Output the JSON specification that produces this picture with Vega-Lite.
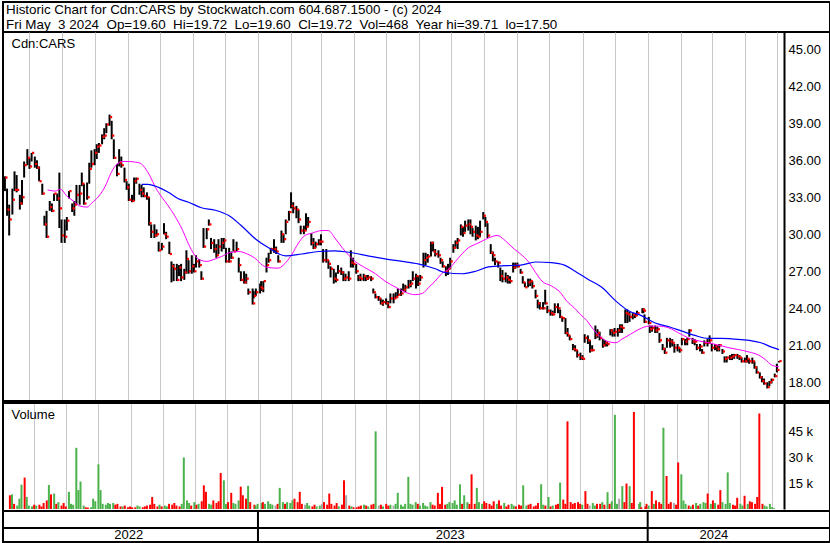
{
"$schema":"https://vega.github.io/schema/vega-lite/v6.json",
"background":"white",
"padding":{"left":1,"top":1,"right":0,"bottom":0},
"spacing":0,
"bounds":"flush",
"resolve":{"scale":{"x":"independent","y":"independent"}},
"datasets":{
"hdr":[{"line":"1","t":"Historic Chart for Cdn:CARS by Stockwatch.com 604.687.1500 - (c) 2024"},{"line":"2","t":"Fri May\u00a0 3 2024\u00a0 Op=19.60\u00a0 Hi=19.72\u00a0 Lo=19.60\u00a0 Cl=19.72\u00a0 Vol=468\u00a0 Year hi=39.71\u00a0 lo=17.50"}],
"bars":[
{"d":"2022-05-09","h":34.7,"l":33.5,"c":34.6,"v":8000,"dir":"d"},
{"d":"2022-05-11","h":33.7,"l":31.5,"c":32.0,"v":8500,"dir":"u"},
{"d":"2022-05-13","h":32.4,"l":29.9,"c":31.2,"v":3000,"dir":"d"},
{"d":"2022-05-16","h":33.7,"l":31.6,"c":32.8,"v":2000,"dir":"u"},
{"d":"2022-05-18","h":35.1,"l":33.5,"c":33.6,"v":6000,"dir":"u"},
{"d":"2022-05-20","h":34.8,"l":33.4,"c":33.6,"v":14200,"dir":"u"},
{"d":"2022-05-23","h":33.2,"l":32.0,"c":32.5,"v":18300,"dir":"d"},
{"d":"2022-05-25","h":34.4,"l":32.4,"c":33.0,"v":7000,"dir":"u"},
{"d":"2022-05-27","h":35.9,"l":34.6,"c":35.6,"v":2000,"dir":"u"},
{"d":"2022-05-30","h":36.9,"l":35.6,"c":36.2,"v":1500,"dir":"u"},
{"d":"2022-06-01","h":36.2,"l":35.3,"c":35.5,"v":2500,"dir":"d"},
{"d":"2022-06-03","h":36.6,"l":35.9,"c":36.6,"v":2000,"dir":"u"},
{"d":"2022-06-06","h":36.3,"l":35.4,"c":35.7,"v":2500,"dir":"d"},
{"d":"2022-06-08","h":36.0,"l":35.3,"c":35.4,"v":1500,"dir":"d"},
{"d":"2022-06-10","h":35.5,"l":34.3,"c":34.3,"v":3500,"dir":"d"},
{"d":"2022-06-13","h":34.1,"l":33.2,"c":33.3,"v":5000,"dir":"d"},
{"d":"2022-06-15","h":31.5,"l":30.7,"c":30.8,"v":14000,"dir":"u"},
{"d":"2022-06-17","h":31.9,"l":29.7,"c":29.8,"v":8500,"dir":"d"},
{"d":"2022-06-20","h":32.7,"l":31.9,"c":32.2,"v":9000,"dir":"u"},
{"d":"2022-06-22","h":32.5,"l":31.8,"c":31.9,"v":3000,"dir":"d"},
{"d":"2022-06-24","h":33.3,"l":32.7,"c":33.3,"v":4000,"dir":"u"},
{"d":"2022-06-27","h":33.3,"l":32.7,"c":32.9,"v":2000,"dir":"d"},
{"d":"2022-06-29","h":35.0,"l":30.5,"c":32.1,"v":3500,"dir":"d"},
{"d":"2022-07-01","h":31.2,"l":29.3,"c":29.9,"v":1500,"dir":"d"},
{"d":"2022-07-04","h":31.2,"l":29.3,"c":29.8,"v":10000,"dir":"u"},
{"d":"2022-07-06","h":31.4,"l":30.3,"c":31.1,"v":3000,"dir":"u"},
{"d":"2022-07-08","h":33.5,"l":32.9,"c":33.5,"v":2500,"dir":"u"},
{"d":"2022-07-11","h":32.5,"l":31.8,"c":32.1,"v":35600,"dir":"u"},
{"d":"2022-07-13","h":32.7,"l":31.5,"c":32.4,"v":11000,"dir":"u"},
{"d":"2022-07-15","h":34.0,"l":32.4,"c":33.2,"v":16000,"dir":"u"},
{"d":"2022-07-18","h":34.0,"l":32.4,"c":33.3,"v":2000,"dir":"u"},
{"d":"2022-07-20","h":35.0,"l":33.9,"c":34.1,"v":1000,"dir":"d"},
{"d":"2022-07-22","h":34.1,"l":32.4,"c":32.5,"v":800,"dir":"d"},
{"d":"2022-07-25","h":34.2,"l":32.8,"c":33.0,"v":1000,"dir":"u"},
{"d":"2022-07-27","h":35.8,"l":34.1,"c":35.3,"v":6000,"dir":"u"},
{"d":"2022-07-29","h":36.8,"l":35.4,"c":35.7,"v":4500,"dir":"u"},
{"d":"2022-08-01","h":36.9,"l":35.6,"c":36.6,"v":26000,"dir":"u"},
{"d":"2022-08-03","h":37.3,"l":36.1,"c":37.1,"v":11000,"dir":"u"},
{"d":"2022-08-05","h":37.4,"l":36.6,"c":37.2,"v":3000,"dir":"u"},
{"d":"2022-08-08","h":38.1,"l":37.3,"c":37.9,"v":2500,"dir":"u"},
{"d":"2022-08-10","h":38.6,"l":37.7,"c":38.0,"v":3500,"dir":"u"},
{"d":"2022-08-12","h":39.0,"l":38.2,"c":38.9,"v":3000,"dir":"u"},
{"d":"2022-08-15","h":39.7,"l":38.8,"c":39.5,"v":3500,"dir":"u"},
{"d":"2022-08-17","h":39.2,"l":37.7,"c":38.0,"v":2500,"dir":"d"},
{"d":"2022-08-19","h":37.7,"l":36.1,"c":36.2,"v":3000,"dir":"d"},
{"d":"2022-08-22","h":35.7,"l":34.7,"c":34.9,"v":1500,"dir":"d"},
{"d":"2022-08-24","h":36.9,"l":35.5,"c":35.8,"v":1500,"dir":"u"},
{"d":"2022-08-26","h":36.3,"l":35.4,"c":35.6,"v":2000,"dir":"d"},
{"d":"2022-08-29","h":35.4,"l":34.2,"c":34.4,"v":1000,"dir":"d"},
{"d":"2022-08-31","h":34.3,"l":33.6,"c":33.8,"v":1500,"dir":"d"},
{"d":"2022-09-02","h":34.1,"l":32.7,"c":32.8,"v":1000,"dir":"d"},
{"d":"2022-09-05","h":33.2,"l":32.6,"c":32.7,"v":1000,"dir":"d"},
{"d":"2022-09-07","h":34.6,"l":32.7,"c":34.3,"v":2000,"dir":"u"},
{"d":"2022-09-09","h":34.6,"l":34.1,"c":34.5,"v":1500,"dir":"u"},
{"d":"2022-09-12","h":34.1,"l":33.2,"c":33.6,"v":1000,"dir":"d"},
{"d":"2022-09-14","h":34.0,"l":33.0,"c":33.3,"v":1500,"dir":"d"},
{"d":"2022-09-16","h":33.8,"l":33.0,"c":33.1,"v":2000,"dir":"d"},
{"d":"2022-09-19","h":33.4,"l":32.8,"c":33.0,"v":2500,"dir":"d"},
{"d":"2022-09-21","h":33.0,"l":30.7,"c":30.9,"v":7000,"dir":"d"},
{"d":"2022-09-23","h":30.8,"l":29.7,"c":30.2,"v":3000,"dir":"d"},
{"d":"2022-09-26","h":30.8,"l":29.7,"c":29.9,"v":1500,"dir":"d"},
{"d":"2022-09-28","h":30.4,"l":29.8,"c":30.0,"v":2500,"dir":"u"},
{"d":"2022-09-30","h":29.4,"l":28.6,"c":28.7,"v":1500,"dir":"d"},
{"d":"2022-10-03","h":29.3,"l":28.7,"c":29.0,"v":2000,"dir":"u"},
{"d":"2022-10-05","h":30.9,"l":30.0,"c":30.0,"v":1500,"dir":"u"},
{"d":"2022-10-07","h":30.2,"l":29.6,"c":29.8,"v":3000,"dir":"d"},
{"d":"2022-10-10","h":29.4,"l":28.4,"c":28.4,"v":2500,"dir":"d"},
{"d":"2022-10-12","h":27.8,"l":26.1,"c":27.4,"v":3500,"dir":"d"},
{"d":"2022-10-14","h":27.6,"l":26.2,"c":27.2,"v":2000,"dir":"d"},
{"d":"2022-10-17","h":27.6,"l":26.2,"c":26.3,"v":1500,"dir":"d"},
{"d":"2022-10-19","h":27.5,"l":26.6,"c":27.3,"v":3000,"dir":"u"},
{"d":"2022-10-21","h":27.6,"l":26.2,"c":26.5,"v":30000,"dir":"u"},
{"d":"2022-10-24","h":27.2,"l":26.3,"c":26.9,"v":5000,"dir":"u"},
{"d":"2022-10-26","h":28.7,"l":26.8,"c":28.0,"v":3500,"dir":"u"},
{"d":"2022-10-28","h":27.9,"l":26.8,"c":27.0,"v":2000,"dir":"d"},
{"d":"2022-10-31","h":28.3,"l":26.8,"c":27.4,"v":4000,"dir":"u"},
{"d":"2022-11-02","h":27.6,"l":26.9,"c":27.0,"v":2500,"dir":"d"},
{"d":"2022-11-04","h":28.3,"l":27.3,"c":27.8,"v":3000,"dir":"u"},
{"d":"2022-11-07","h":28.0,"l":27.3,"c":27.5,"v":4500,"dir":"d"},
{"d":"2022-11-09","h":27.0,"l":26.3,"c":26.4,"v":13800,"dir":"d"},
{"d":"2022-11-11","h":30.5,"l":28.9,"c":29.0,"v":10000,"dir":"d"},
{"d":"2022-11-14","h":30.5,"l":29.6,"c":30.4,"v":3000,"dir":"u"},
{"d":"2022-11-16","h":31.2,"l":30.7,"c":30.8,"v":2500,"dir":"u"},
{"d":"2022-11-18","h":29.7,"l":28.8,"c":29.3,"v":5000,"dir":"d"},
{"d":"2022-11-21","h":29.6,"l":28.5,"c":28.8,"v":3500,"dir":"d"},
{"d":"2022-11-23","h":29.2,"l":28.1,"c":28.3,"v":4500,"dir":"d"},
{"d":"2022-11-25","h":29.6,"l":28.4,"c":29.0,"v":21000,"dir":"d"},
{"d":"2022-11-28","h":29.7,"l":28.6,"c":29.3,"v":16700,"dir":"u"},
{"d":"2022-11-30","h":29.7,"l":28.8,"c":29.5,"v":3000,"dir":"u"},
{"d":"2022-12-02","h":28.9,"l":27.7,"c":27.8,"v":4000,"dir":"d"},
{"d":"2022-12-05","h":28.9,"l":27.7,"c":27.8,"v":9400,"dir":"d"},
{"d":"2022-12-07","h":28.6,"l":28.0,"c":28.1,"v":3500,"dir":"u"},
{"d":"2022-12-09","h":29.6,"l":28.6,"c":28.6,"v":3000,"dir":"u"},
{"d":"2022-12-12","h":29.4,"l":28.6,"c":28.8,"v":5000,"dir":"u"},
{"d":"2022-12-14","h":28.1,"l":26.9,"c":27.5,"v":13000,"dir":"d"},
{"d":"2022-12-16","h":27.0,"l":26.2,"c":26.3,"v":8000,"dir":"d"},
{"d":"2022-12-19","h":27.0,"l":26.0,"c":26.1,"v":6000,"dir":"d"},
{"d":"2022-12-21","h":26.8,"l":26.0,"c":26.4,"v":13500,"dir":"u"},
{"d":"2022-12-23","h":25.6,"l":25.1,"c":25.3,"v":4000,"dir":"d"},
{"d":"2022-12-27","h":25.6,"l":24.3,"c":24.4,"v":2500,"dir":"d"},
{"d":"2022-12-28","h":25.4,"l":24.8,"c":25.0,"v":2000,"dir":"u"},
{"d":"2022-12-30","h":25.6,"l":25.0,"c":25.3,"v":3000,"dir":"u"},
{"d":"2023-01-03","h":26.0,"l":25.2,"c":25.7,"v":3500,"dir":"u"},
{"d":"2023-01-04","h":26.2,"l":25.4,"c":25.6,"v":4000,"dir":"d"},
{"d":"2023-01-06","h":26.2,"l":25.3,"c":26.2,"v":3000,"dir":"u"},
{"d":"2023-01-09","h":28.1,"l":26.9,"c":27.5,"v":4500,"dir":"u"},
{"d":"2023-01-11","h":28.5,"l":27.7,"c":27.9,"v":3000,"dir":"u"},
{"d":"2023-01-13","h":28.9,"l":28.4,"c":28.8,"v":2500,"dir":"u"},
{"d":"2023-01-16","h":29.6,"l":28.5,"c":28.8,"v":2000,"dir":"n"},
{"d":"2023-01-18","h":29.0,"l":28.4,"c":28.6,"v":3000,"dir":"d"},
{"d":"2023-01-20","h":28.3,"l":27.7,"c":27.8,"v":12300,"dir":"u"},
{"d":"2023-01-23","h":30.3,"l":29.3,"c":30.0,"v":4000,"dir":"u"},
{"d":"2023-01-25","h":30.0,"l":29.3,"c":29.6,"v":3000,"dir":"d"},
{"d":"2023-01-27","h":31.2,"l":30.0,"c":31.0,"v":4000,"dir":"u"},
{"d":"2023-01-30","h":31.9,"l":31.1,"c":31.8,"v":3500,"dir":"u"},
{"d":"2023-02-01","h":33.4,"l":32.1,"c":32.3,"v":5000,"dir":"u"},
{"d":"2023-02-03","h":32.6,"l":31.7,"c":32.1,"v":6000,"dir":"d"},
{"d":"2023-02-06","h":32.3,"l":31.3,"c":32.0,"v":4000,"dir":"d"},
{"d":"2023-02-08","h":32.0,"l":30.9,"c":31.2,"v":10000,"dir":"d"},
{"d":"2023-02-10","h":30.7,"l":30.0,"c":30.3,"v":3000,"dir":"d"},
{"d":"2023-02-13","h":30.7,"l":30.0,"c":30.3,"v":2500,"dir":"n"},
{"d":"2023-02-15","h":31.7,"l":30.3,"c":30.6,"v":3500,"dir":"u"},
{"d":"2023-02-17","h":31.4,"l":30.6,"c":31.0,"v":2000,"dir":"u"},
{"d":"2023-02-20","h":30.1,"l":29.1,"c":29.3,"v":1500,"dir":"d"},
{"d":"2023-02-22","h":29.7,"l":28.8,"c":28.9,"v":2500,"dir":"d"},
{"d":"2023-02-24","h":29.4,"l":28.9,"c":29.2,"v":1500,"dir":"u"},
{"d":"2023-02-27","h":29.6,"l":29.1,"c":29.4,"v":2000,"dir":"u"},
{"d":"2023-03-01","h":30.0,"l":29.1,"c":29.4,"v":3000,"dir":"n"},
{"d":"2023-03-03","h":28.8,"l":27.7,"c":27.9,"v":4000,"dir":"d"},
{"d":"2023-03-06","h":28.8,"l":27.7,"c":27.9,"v":2500,"dir":"d"},
{"d":"2023-03-08","h":27.9,"l":27.2,"c":27.6,"v":9000,"dir":"d"},
{"d":"2023-03-10","h":27.4,"l":26.5,"c":27.2,"v":3000,"dir":"d"},
{"d":"2023-03-13","h":27.2,"l":26.0,"c":26.4,"v":2000,"dir":"d"},
{"d":"2023-03-15","h":26.9,"l":26.1,"c":26.3,"v":3500,"dir":"d"},
{"d":"2023-03-17","h":27.5,"l":26.8,"c":27.0,"v":1500,"dir":"u"},
{"d":"2023-03-20","h":27.3,"l":26.7,"c":26.9,"v":2500,"dir":"d"},
{"d":"2023-03-22","h":27.0,"l":26.2,"c":26.4,"v":16700,"dir":"d"},
{"d":"2023-03-24","h":26.8,"l":26.2,"c":26.5,"v":8000,"dir":"n"},
{"d":"2023-03-27","h":27.0,"l":26.2,"c":26.4,"v":2000,"dir":"d"},
{"d":"2023-03-29","h":28.7,"l":27.3,"c":27.7,"v":1500,"dir":"u"},
{"d":"2023-03-31","h":28.1,"l":27.3,"c":27.6,"v":1000,"dir":"d"},
{"d":"2023-04-03","h":27.6,"l":26.8,"c":27.0,"v":1000,"dir":"d"},
{"d":"2023-04-05","h":26.7,"l":26.2,"c":26.5,"v":1500,"dir":"d"},
{"d":"2023-04-07","h":26.8,"l":26.2,"c":26.4,"v":2000,"dir":"d"},
{"d":"2023-04-10","h":26.8,"l":26.2,"c":26.6,"v":2500,"dir":"u"},
{"d":"2023-04-12","h":26.7,"l":26.2,"c":26.4,"v":2000,"dir":"d"},
{"d":"2023-04-14","h":26.7,"l":26.3,"c":26.5,"v":1500,"dir":"u"},
{"d":"2023-04-17","h":26.6,"l":26.2,"c":26.4,"v":2500,"dir":"d"},
{"d":"2023-04-19","h":25.6,"l":25.2,"c":25.3,"v":3000,"dir":"d"},
{"d":"2023-04-21","h":25.2,"l":24.8,"c":24.9,"v":45200,"dir":"u"},
{"d":"2023-04-24","h":25.0,"l":24.6,"c":24.8,"v":2000,"dir":"n"},
{"d":"2023-04-26","h":24.8,"l":24.3,"c":24.4,"v":2500,"dir":"d"},
{"d":"2023-04-28","h":24.7,"l":24.2,"c":24.5,"v":1500,"dir":"u"},
{"d":"2023-05-01","h":24.8,"l":24.3,"c":24.4,"v":3000,"dir":"d"},
{"d":"2023-05-03","h":24.6,"l":24.0,"c":24.1,"v":2000,"dir":"d"},
{"d":"2023-05-05","h":25.2,"l":24.4,"c":24.8,"v":2500,"dir":"u"},
{"d":"2023-05-08","h":25.2,"l":24.4,"c":24.8,"v":2000,"dir":"n"},
{"d":"2023-05-10","h":25.3,"l":24.8,"c":24.9,"v":3000,"dir":"u"},
{"d":"2023-05-12","h":25.6,"l":25.0,"c":25.1,"v":9400,"dir":"u"},
{"d":"2023-05-15","h":25.6,"l":25.0,"c":25.2,"v":2500,"dir":"u"},
{"d":"2023-05-17","h":26.0,"l":25.4,"c":25.5,"v":1500,"dir":"u"},
{"d":"2023-05-19","h":25.9,"l":25.3,"c":25.7,"v":3000,"dir":"u"},
{"d":"2023-05-22","h":26.3,"l":25.6,"c":25.9,"v":18700,"dir":"u"},
{"d":"2023-05-24","h":26.3,"l":25.7,"c":26.0,"v":3000,"dir":"u"},
{"d":"2023-05-26","h":27.0,"l":26.2,"c":26.4,"v":2500,"dir":"u"},
{"d":"2023-05-29","h":26.8,"l":25.6,"c":26.6,"v":4000,"dir":"u"},
{"d":"2023-05-31","h":26.6,"l":25.8,"c":26.0,"v":3000,"dir":"d"},
{"d":"2023-06-02","h":26.7,"l":26.2,"c":26.5,"v":2000,"dir":"u"},
{"d":"2023-06-05","h":28.5,"l":27.3,"c":27.9,"v":3500,"dir":"u"},
{"d":"2023-06-07","h":28.5,"l":27.5,"c":28.1,"v":2000,"dir":"u"},
{"d":"2023-06-09","h":28.4,"l":27.7,"c":28.2,"v":1500,"dir":"u"},
{"d":"2023-06-12","h":29.4,"l":28.2,"c":29.3,"v":4000,"dir":"u"},
{"d":"2023-06-14","h":29.4,"l":28.6,"c":28.6,"v":2500,"dir":"d"},
{"d":"2023-06-16","h":28.8,"l":28.2,"c":28.4,"v":2000,"dir":"d"},
{"d":"2023-06-19","h":28.7,"l":28.1,"c":28.3,"v":9400,"dir":"d"},
{"d":"2023-06-21","h":28.1,"l":27.6,"c":27.9,"v":3000,"dir":"d"},
{"d":"2023-06-23","h":27.8,"l":27.3,"c":27.4,"v":12900,"dir":"d"},
{"d":"2023-06-26","h":27.4,"l":26.6,"c":27.0,"v":2500,"dir":"d"},
{"d":"2023-06-28","h":27.6,"l":26.7,"c":27.2,"v":3000,"dir":"u"},
{"d":"2023-06-30","h":28.1,"l":27.2,"c":27.8,"v":4000,"dir":"u"},
{"d":"2023-07-03","h":29.2,"l":28.5,"c":28.9,"v":3500,"dir":"u"},
{"d":"2023-07-05","h":29.5,"l":28.9,"c":29.3,"v":5000,"dir":"u"},
{"d":"2023-07-07","h":29.7,"l":28.8,"c":29.5,"v":2500,"dir":"u"},
{"d":"2023-07-10","h":30.8,"l":29.9,"c":30.6,"v":14400,"dir":"u"},
{"d":"2023-07-12","h":30.6,"l":29.8,"c":30.1,"v":3000,"dir":"d"},
{"d":"2023-07-14","h":31.1,"l":30.2,"c":30.7,"v":8000,"dir":"u"},
{"d":"2023-07-17","h":31.2,"l":30.3,"c":30.8,"v":4000,"dir":"u"},
{"d":"2023-07-19","h":31.2,"l":30.0,"c":30.6,"v":3000,"dir":"d"},
{"d":"2023-07-21","h":30.5,"l":29.8,"c":30.2,"v":20200,"dir":"d"},
{"d":"2023-07-24","h":30.7,"l":29.5,"c":29.9,"v":3000,"dir":"d"},
{"d":"2023-07-26","h":30.6,"l":29.6,"c":29.8,"v":12300,"dir":"u"},
{"d":"2023-07-28","h":31.1,"l":29.8,"c":30.2,"v":4000,"dir":"u"},
{"d":"2023-07-31","h":31.8,"l":31.2,"c":31.5,"v":3000,"dir":"u"},
{"d":"2023-08-02","h":31.4,"l":30.6,"c":31.0,"v":4500,"dir":"d"},
{"d":"2023-08-04","h":30.9,"l":29.7,"c":29.9,"v":3500,"dir":"d"},
{"d":"2023-08-07","h":29.2,"l":28.4,"c":28.5,"v":3000,"dir":"d"},
{"d":"2023-08-09","h":28.6,"l":27.8,"c":28.3,"v":2000,"dir":"d"},
{"d":"2023-08-11","h":28.1,"l":27.5,"c":27.8,"v":4500,"dir":"d"},
{"d":"2023-08-14","h":27.8,"l":27.3,"c":27.7,"v":3000,"dir":"u"},
{"d":"2023-08-16","h":27.3,"l":26.2,"c":26.6,"v":5000,"dir":"d"},
{"d":"2023-08-18","h":27.1,"l":26.1,"c":26.4,"v":2000,"dir":"d"},
{"d":"2023-08-21","h":26.9,"l":26.1,"c":26.5,"v":3500,"dir":"u"},
{"d":"2023-08-23","h":26.7,"l":26.0,"c":26.3,"v":1500,"dir":"d"},
{"d":"2023-08-25","h":26.6,"l":26.0,"c":26.2,"v":2500,"dir":"d"},
{"d":"2023-08-28","h":27.7,"l":26.9,"c":27.3,"v":3000,"dir":"u"},
{"d":"2023-08-30","h":27.7,"l":27.2,"c":27.5,"v":2000,"dir":"u"},
{"d":"2023-09-01","h":27.7,"l":27.3,"c":27.4,"v":1500,"dir":"d"},
{"d":"2023-09-04","h":27.2,"l":26.8,"c":26.9,"v":2500,"dir":"d"},
{"d":"2023-09-06","h":26.6,"l":26.0,"c":26.1,"v":2000,"dir":"d"},
{"d":"2023-09-08","h":26.1,"l":25.7,"c":25.7,"v":13800,"dir":"u"},
{"d":"2023-09-11","h":26.4,"l":25.7,"c":26.1,"v":2000,"dir":"u"},
{"d":"2023-09-13","h":26.4,"l":25.8,"c":26.2,"v":2500,"dir":"d"},
{"d":"2023-09-15","h":26.2,"l":25.6,"c":25.8,"v":3000,"dir":"d"},
{"d":"2023-09-18","h":25.5,"l":24.8,"c":25.0,"v":1500,"dir":"d"},
{"d":"2023-09-20","h":24.7,"l":24.0,"c":24.4,"v":2000,"dir":"d"},
{"d":"2023-09-22","h":24.5,"l":23.9,"c":24.0,"v":3500,"dir":"d"},
{"d":"2023-09-25","h":24.5,"l":23.9,"c":24.0,"v":14400,"dir":"u"},
{"d":"2023-09-27","h":25.5,"l":24.3,"c":24.4,"v":2500,"dir":"u"},
{"d":"2023-09-29","h":24.2,"l":23.6,"c":23.8,"v":2000,"dir":"d"},
{"d":"2023-10-02","h":23.9,"l":23.4,"c":23.6,"v":7000,"dir":"u"},
{"d":"2023-10-04","h":23.8,"l":23.4,"c":23.5,"v":1500,"dir":"d"},
{"d":"2023-10-06","h":24.4,"l":23.6,"c":24.1,"v":2000,"dir":"u"},
{"d":"2023-10-09","h":24.4,"l":23.6,"c":24.0,"v":2500,"dir":"d"},
{"d":"2023-10-11","h":23.9,"l":23.2,"c":23.3,"v":3000,"dir":"d"},
{"d":"2023-10-13","h":23.3,"l":22.9,"c":23.2,"v":15400,"dir":"u"},
{"d":"2023-10-16","h":23.2,"l":21.9,"c":22.0,"v":5500,"dir":"d"},
{"d":"2023-10-18","h":22.4,"l":21.7,"c":21.8,"v":3000,"dir":"d"},
{"d":"2023-10-20","h":21.8,"l":21.4,"c":21.5,"v":51000,"dir":"d"},
{"d":"2023-10-23","h":21.1,"l":20.6,"c":20.7,"v":4000,"dir":"d"},
{"d":"2023-10-25","h":21.0,"l":20.5,"c":20.6,"v":3000,"dir":"d"},
{"d":"2023-10-27","h":20.6,"l":20.0,"c":20.2,"v":3500,"dir":"d"},
{"d":"2023-10-30","h":20.4,"l":19.8,"c":20.0,"v":4000,"dir":"d"},
{"d":"2023-11-01","h":20.2,"l":19.8,"c":19.9,"v":3000,"dir":"d"},
{"d":"2023-11-03","h":21.9,"l":21.2,"c":21.6,"v":2500,"dir":"u"},
{"d":"2023-11-06","h":21.8,"l":21.1,"c":21.4,"v":10400,"dir":"d"},
{"d":"2023-11-08","h":21.4,"l":20.4,"c":20.6,"v":3000,"dir":"d"},
{"d":"2023-11-10","h":21.0,"l":20.5,"c":20.6,"v":2000,"dir":"n"},
{"d":"2023-11-13","h":22.6,"l":21.5,"c":21.8,"v":3500,"dir":"u"},
{"d":"2023-11-15","h":22.3,"l":21.6,"c":22.0,"v":2000,"dir":"u"},
{"d":"2023-11-17","h":22.1,"l":21.4,"c":21.6,"v":3000,"dir":"d"},
{"d":"2023-11-20","h":21.5,"l":20.8,"c":21.0,"v":3000,"dir":"d"},
{"d":"2023-11-22","h":21.4,"l":20.9,"c":21.2,"v":4000,"dir":"u"},
{"d":"2023-11-24","h":21.3,"l":20.9,"c":21.1,"v":2500,"dir":"d"},
{"d":"2023-11-27","h":22.3,"l":21.8,"c":22.2,"v":9800,"dir":"u"},
{"d":"2023-11-29","h":22.3,"l":21.7,"c":22.0,"v":3000,"dir":"d"},
{"d":"2023-12-01","h":22.4,"l":21.7,"c":22.1,"v":4500,"dir":"u"},
{"d":"2023-12-04","h":22.4,"l":21.7,"c":22.2,"v":54800,"dir":"u"},
{"d":"2023-12-06","h":22.7,"l":22.0,"c":22.5,"v":3000,"dir":"u"},
{"d":"2023-12-08","h":22.7,"l":22.0,"c":22.4,"v":6000,"dir":"n"},
{"d":"2023-12-11","h":23.9,"l":22.8,"c":23.6,"v":13300,"dir":"u"},
{"d":"2023-12-13","h":23.9,"l":22.8,"c":23.5,"v":4000,"dir":"d"},
{"d":"2023-12-15","h":23.7,"l":22.9,"c":23.3,"v":14800,"dir":"d"},
{"d":"2023-12-18","h":23.6,"l":23.1,"c":23.5,"v":13300,"dir":"u"},
{"d":"2023-12-20","h":23.6,"l":23.2,"c":23.4,"v":3500,"dir":"d"},
{"d":"2023-12-22","h":23.8,"l":23.4,"c":23.6,"v":56500,"dir":"d"},
{"d":"2023-12-27","h":24.0,"l":23.6,"c":23.9,"v":3000,"dir":"u"},
{"d":"2023-12-28","h":24.0,"l":23.6,"c":23.8,"v":4000,"dir":"u"},
{"d":"2023-12-29","h":23.5,"l":22.8,"c":22.9,"v":1000,"dir":"d"},
{"d":"2024-01-02","h":23.3,"l":22.7,"c":22.8,"v":1500,"dir":"d"},
{"d":"2024-01-03","h":22.6,"l":22.0,"c":22.3,"v":3000,"dir":"d"},
{"d":"2024-01-05","h":22.6,"l":22.1,"c":22.4,"v":2000,"dir":"u"},
{"d":"2024-01-08","h":22.6,"l":22.0,"c":22.2,"v":10400,"dir":"d"},
{"d":"2024-01-10","h":22.5,"l":22.0,"c":22.3,"v":3000,"dir":"u"},
{"d":"2024-01-12","h":22.0,"l":21.2,"c":21.4,"v":5000,"dir":"d"},
{"d":"2024-01-15","h":21.1,"l":20.6,"c":20.7,"v":4000,"dir":"d"},
{"d":"2024-01-17","h":20.8,"l":20.3,"c":20.4,"v":3000,"dir":"d"},
{"d":"2024-01-19","h":21.6,"l":20.8,"c":21.4,"v":47300,"dir":"u"},
{"d":"2024-01-22","h":21.6,"l":20.8,"c":21.3,"v":19200,"dir":"d"},
{"d":"2024-01-24","h":21.5,"l":20.9,"c":21.2,"v":3000,"dir":"d"},
{"d":"2024-01-26","h":21.1,"l":20.4,"c":20.8,"v":4000,"dir":"d"},
{"d":"2024-01-29","h":21.1,"l":20.5,"c":20.8,"v":3500,"dir":"n"},
{"d":"2024-01-31","h":20.8,"l":20.4,"c":20.6,"v":2500,"dir":"d"},
{"d":"2024-02-02","h":21.6,"l":21.0,"c":21.5,"v":27100,"dir":"d"},
{"d":"2024-02-05","h":21.5,"l":21.0,"c":21.3,"v":20200,"dir":"u"},
{"d":"2024-02-07","h":21.6,"l":21.0,"c":21.5,"v":5000,"dir":"u"},
{"d":"2024-02-09","h":22.3,"l":21.7,"c":22.2,"v":3000,"dir":"u"},
{"d":"2024-02-12","h":21.6,"l":21.1,"c":21.3,"v":2000,"dir":"d"},
{"d":"2024-02-14","h":21.5,"l":21.0,"c":21.3,"v":1500,"dir":"u"},
{"d":"2024-02-16","h":21.1,"l":20.6,"c":20.8,"v":2500,"dir":"d"},
{"d":"2024-02-19","h":21.1,"l":20.5,"c":20.9,"v":3500,"dir":"u"},
{"d":"2024-02-21","h":20.7,"l":20.3,"c":20.4,"v":2000,"dir":"d"},
{"d":"2024-02-23","h":21.4,"l":20.9,"c":21.2,"v":3000,"dir":"u"},
{"d":"2024-02-26","h":21.5,"l":20.9,"c":21.2,"v":4000,"dir":"u"},
{"d":"2024-02-28","h":21.8,"l":21.1,"c":21.4,"v":3500,"dir":"u"},
{"d":"2024-03-01","h":21.1,"l":20.5,"c":20.8,"v":9000,"dir":"d"},
{"d":"2024-03-04","h":21.1,"l":20.6,"c":20.9,"v":3000,"dir":"u"},
{"d":"2024-03-06","h":21.0,"l":20.5,"c":20.7,"v":5000,"dir":"d"},
{"d":"2024-03-08","h":21.1,"l":20.5,"c":21.0,"v":3500,"dir":"u"},
{"d":"2024-03-11","h":20.7,"l":20.3,"c":20.5,"v":2500,"dir":"d"},
{"d":"2024-03-13","h":20.1,"l":19.6,"c":19.9,"v":11000,"dir":"d"},
{"d":"2024-03-15","h":20.1,"l":19.6,"c":20.0,"v":4000,"dir":"u"},
{"d":"2024-03-18","h":20.2,"l":19.8,"c":20.0,"v":3000,"dir":"u"},
{"d":"2024-03-20","h":20.3,"l":19.8,"c":20.1,"v":21300,"dir":"u"},
{"d":"2024-03-22","h":20.3,"l":19.9,"c":20.2,"v":3500,"dir":"u"},
{"d":"2024-03-25","h":20.3,"l":19.9,"c":20.1,"v":2500,"dir":"d"},
{"d":"2024-03-27","h":20.2,"l":19.8,"c":20.0,"v":2000,"dir":"d"},
{"d":"2024-03-29","h":20.0,"l":19.6,"c":19.7,"v":6500,"dir":"d"},
{"d":"2024-04-01","h":20.0,"l":19.6,"c":19.7,"v":3000,"dir":"u"},
{"d":"2024-04-03","h":20.2,"l":19.6,"c":19.9,"v":2000,"dir":"u"},
{"d":"2024-04-05","h":19.9,"l":19.5,"c":19.7,"v":7700,"dir":"d"},
{"d":"2024-04-08","h":20.0,"l":19.5,"c":19.7,"v":3000,"dir":"u"},
{"d":"2024-04-10","h":19.7,"l":19.1,"c":19.2,"v":4500,"dir":"d"},
{"d":"2024-04-12","h":19.3,"l":18.7,"c":18.8,"v":4000,"dir":"d"},
{"d":"2024-04-15","h":18.8,"l":18.3,"c":18.4,"v":3000,"dir":"d"},
{"d":"2024-04-17","h":18.5,"l":18.0,"c":18.1,"v":7000,"dir":"d"},
{"d":"2024-04-19","h":18.3,"l":17.8,"c":17.9,"v":55600,"dir":"d"},
{"d":"2024-04-22","h":18.0,"l":17.5,"c":17.6,"v":3000,"dir":"d"},
{"d":"2024-04-24","h":18.1,"l":17.7,"c":18.0,"v":2000,"dir":"u"},
{"d":"2024-04-26","h":18.3,"l":17.9,"c":18.2,"v":1500,"dir":"u"},
{"d":"2024-04-29","h":18.7,"l":18.4,"c":18.5,"v":3000,"dir":"u"},
{"d":"2024-05-01","h":19.5,"l":18.8,"c":19.0,"v":1000,"dir":"u"},
{"d":"2024-05-03","h":19.72,"l":19.6,"c":19.72,"v":468,"dir":"u"}
],
"fast":[
{"d":"2022-06-18","v":33.6},{"d":"2022-06-25","v":33.5},{"d":"2022-06-30","v":33.65},{"d":"2022-07-06","v":33.1},
{"d":"2022-07-12","v":32.7},{"d":"2022-07-18","v":32.3},{"d":"2022-07-25","v":32.2},{"d":"2022-07-29","v":32.5},
{"d":"2022-08-05","v":33.1},{"d":"2022-08-11","v":33.9},{"d":"2022-08-16","v":34.9},{"d":"2022-08-20","v":35.5},
{"d":"2022-08-27","v":35.9},{"d":"2022-09-02","v":35.9},{"d":"2022-09-08","v":35.85},{"d":"2022-09-13","v":35.75},
{"d":"2022-09-17","v":35.4},{"d":"2022-09-22","v":34.7},{"d":"2022-09-27","v":33.8},{"d":"2022-10-03","v":33.0},
{"d":"2022-10-09","v":32.3},{"d":"2022-10-15","v":31.5},{"d":"2022-10-22","v":30.4},{"d":"2022-10-28","v":29.2},
{"d":"2022-11-02","v":28.4},{"d":"2022-11-08","v":27.9},{"d":"2022-11-14","v":27.8},{"d":"2022-11-22","v":28.0},
{"d":"2022-11-28","v":28.2},{"d":"2022-12-05","v":28.5},{"d":"2022-12-14","v":28.6},{"d":"2022-12-22","v":28.4},
{"d":"2022-12-30","v":28.0},{"d":"2023-01-05","v":27.5},{"d":"2023-01-11","v":27.3},{"d":"2023-01-20","v":27.25},
{"d":"2023-01-27","v":27.7},{"d":"2023-02-02","v":28.4},{"d":"2023-02-08","v":29.3},{"d":"2023-02-14","v":29.9},
{"d":"2023-02-21","v":30.1},{"d":"2023-03-02","v":30.3},{"d":"2023-03-08","v":30.3},{"d":"2023-03-14","v":29.7},
{"d":"2023-03-21","v":28.9},{"d":"2023-03-27","v":28.3},{"d":"2023-04-02","v":27.8},{"d":"2023-04-11","v":27.3},
{"d":"2023-04-21","v":26.8},{"d":"2023-04-30","v":26.2},{"d":"2023-05-10","v":25.7},{"d":"2023-05-19","v":25.3},
{"d":"2023-05-28","v":25.1},{"d":"2023-06-04","v":25.2},{"d":"2023-06-10","v":25.7},{"d":"2023-06-16","v":26.2},
{"d":"2023-06-22","v":26.8},{"d":"2023-06-29","v":27.2},{"d":"2023-07-05","v":27.8},{"d":"2023-07-11","v":28.4},
{"d":"2023-07-17","v":28.9},{"d":"2023-07-24","v":29.2},{"d":"2023-07-30","v":29.45},{"d":"2023-08-05","v":29.7},
{"d":"2023-08-13","v":29.9},{"d":"2023-08-21","v":29.45},{"d":"2023-08-29","v":28.8},{"d":"2023-09-04","v":28.4},
{"d":"2023-09-12","v":27.7},{"d":"2023-09-18","v":26.9},{"d":"2023-09-24","v":26.2},{"d":"2023-10-03","v":25.8},
{"d":"2023-10-11","v":25.3},{"d":"2023-10-17","v":24.6},{"d":"2023-10-24","v":24.05},{"d":"2023-10-30","v":23.5},
{"d":"2023-11-05","v":23.0},{"d":"2023-11-11","v":22.3},{"d":"2023-11-19","v":21.6},{"d":"2023-11-25","v":21.3},
{"d":"2023-12-02","v":21.2},{"d":"2023-12-08","v":21.5},{"d":"2023-12-16","v":21.9},{"d":"2023-12-24","v":22.3},
{"d":"2024-01-02","v":22.55},{"d":"2024-01-11","v":22.55},{"d":"2024-01-21","v":22.4},{"d":"2024-01-30","v":22.0},
{"d":"2024-02-08","v":21.6},{"d":"2024-02-18","v":21.35},{"d":"2024-02-27","v":21.2},{"d":"2024-03-08","v":21.0},
{"d":"2024-03-17","v":20.8},{"d":"2024-03-26","v":20.65},{"d":"2024-04-05","v":20.45},{"d":"2024-04-14","v":20.2},
{"d":"2024-04-20","v":19.85},{"d":"2024-04-26","v":19.4},{"d":"2024-05-03","v":19.25}
],
"slow":[
{"d":"2022-09-14","v":34.05},{"d":"2022-09-20","v":34.05},{"d":"2022-09-30","v":33.8},{"d":"2022-10-09","v":33.4},
{"d":"2022-10-18","v":32.9},{"d":"2022-10-28","v":32.6},{"d":"2022-11-09","v":32.15},{"d":"2022-11-22","v":31.95},
{"d":"2022-12-05","v":31.5},{"d":"2022-12-17","v":30.65},{"d":"2022-12-30","v":29.6},{"d":"2023-01-11","v":28.9},
{"d":"2023-01-27","v":28.25},{"d":"2023-02-11","v":28.4},{"d":"2023-02-27","v":28.6},{"d":"2023-03-14","v":28.65},
{"d":"2023-03-30","v":28.5},{"d":"2023-04-14","v":28.25},{"d":"2023-04-30","v":28.0},{"d":"2023-05-16","v":27.8},
{"d":"2023-05-31","v":27.6},{"d":"2023-06-16","v":27.2},{"d":"2023-06-25","v":26.9},{"d":"2023-07-11","v":26.8},
{"d":"2023-07-24","v":27.0},{"d":"2023-08-05","v":27.35},{"d":"2023-08-21","v":27.45},{"d":"2023-09-04","v":27.5},
{"d":"2023-09-18","v":27.75},{"d":"2023-10-03","v":27.7},{"d":"2023-10-15","v":27.5},{"d":"2023-10-25","v":27.0},
{"d":"2023-11-06","v":26.35},{"d":"2023-11-19","v":25.7},{"d":"2023-12-02","v":24.6},{"d":"2023-12-14","v":23.8},
{"d":"2023-12-26","v":23.4},{"d":"2024-01-08","v":22.8},{"d":"2024-01-21","v":22.5},{"d":"2024-02-02","v":22.15},
{"d":"2024-02-14","v":21.8},{"d":"2024-02-27","v":21.55},{"d":"2024-03-10","v":21.55},{"d":"2024-03-22","v":21.5},
{"d":"2024-04-05","v":21.4},{"d":"2024-04-16","v":21.2},{"d":"2024-04-26","v":20.85},{"d":"2024-05-03","v":20.65}
],
"plev":[{"p":18},{"p":19.5},{"p":21},{"p":22.5},{"p":24},{"p":25.5},{"p":27},{"p":28.5},{"p":30},{"p":31.5},{"p":33},{"p":34.5},{"p":36},{"p":37.5},{"p":39},{"p":40.5},{"p":42},{"p":43.5},{"p":45}],
"vlev":[{"v":15000},{"v":30000},{"v":45000}],
"yb":[{"d":"2023-01-01"},{"d":"2024-01-01"}],
"yl":[{"yr":"2022","d":"2022-09-02"},{"yr":"2023","d":"2023-06-30"},{"yr":"2024","d":"2024-03-03"}]
},
"vconcat":[
{
"width":827,"height":30,
"data":{"name":"hdr"},
"mark":{"type":"text","align":"left","baseline":"middle","fontSize":13.4,"dx":3,"color":"#000000"},
"encoding":{
"x":{"datum":{"year":2022,"month":5,"date":7,"hours":5,"utc":true},"type":"temporal","scale":{"type":"utc","domain":[{"year":2022,"month":5,"date":7,"hours":5,"utc":true},{"year":2024,"month":5,"date":7,"hours":16,"utc":true}],"range":[0,781]},"axis":null},
"y":{"field":"line","type":"ordinal","axis":null},
"text":{"field":"t"}}
},
{
"width":827,"height":369,
"encoding":{"x":{"field":"d","type":"temporal","scale":{"type":"utc","domain":[{"year":2022,"month":5,"date":7,"hours":5,"utc":true},{"year":2024,"month":5,"date":7,"hours":16,"utc":true}],"range":[0,781]},"axis":{"orient":"top","grid":true,"gridColor":"#c8c8c8","gridWidth":1,"labels":false,"ticks":false,"domain":false,"tickCount":{"interval":"month","step":1},"title":"Cdn:CARS","titleX":8,"titleY":15,"titleAlign":"left","titleAnchor":"start","titleBaseline":"alphabetic","titleAngle":0,"titleFont":"Liberation Sans","titleFontSize":13,"titleFontWeight":"normal","titleColor":"#000000","titlePadding":0}}},
"layer":[
{"data":{"name":"plev"},"mark":{"type":"rule","color":"#c8c8c8","strokeWidth":1},
"encoding":{"x":{"datum":{"year":2022,"month":5,"date":7,"hours":5,"utc":true},"type":"temporal"},"x2":{"datum":{"year":2024,"month":5,"date":7,"hours":16,"utc":true}},
"y":{"field":"p","type":"quantitative","scale":{"domain":[16.48,46.4],"zero":false,"nice":false},"axis":{"orient":"right","offset":-46,"values":[18,19.5,21,22.5,24,25.5,27,28.5,30,31.5,33,34.5,36,37.5,39,40.5,42,43.5,45],"format":".2f","grid":false,"ticks":false,"tickSize":0,"labelPadding":4,"domainColor":"#000000","domainWidth":2,"title":null,"zindex":1}}}},
{"data":{"name":"bars"},"mark":{"type":"rule","color":"#000000","strokeWidth":2},
"encoding":{"y":{"field":"l","type":"quantitative","scale":{"domain":[16.48,46.4],"zero":false,"nice":false}},"y2":{"field":"h"}}},
{"data":{"name":"bars"},"mark":{"type":"square","color":"#ff0000","filled":true,"size":5,"opacity":1,"xOffset":1.5},
"encoding":{"y":{"field":"c","type":"quantitative","scale":{"domain":[16.48,46.4],"zero":false,"nice":false}}}},
{"data":{"name":"fast"},"mark":{"type":"line","color":"#ff00ff","strokeWidth":1,"interpolate":"monotone"},
"encoding":{"y":{"field":"v","type":"quantitative","scale":{"domain":[16.48,46.4],"zero":false,"nice":false}}}},
{"data":{"name":"slow"},"mark":{"type":"line","color":"#0000ff","strokeWidth":1.2,"interpolate":"monotone"},
"encoding":{"y":{"field":"v","type":"quantitative","scale":{"domain":[16.48,46.4],"zero":false,"nice":false}}}}
]
},
{
"width":827,"height":110,
"encoding":{"x":{"field":"d","type":"temporal","scale":{"type":"utc","domain":[{"year":2022,"month":5,"date":7,"hours":5,"utc":true},{"year":2024,"month":5,"date":7,"hours":16,"utc":true}],"range":[0,781]},"axis":{"orient":"top","grid":true,"gridColor":"#c8c8c8","gridWidth":1,"labels":false,"ticks":false,"domain":false,"tickCount":{"interval":"month","step":1},"title":"Volume","titleX":8,"titleY":17,"titleAlign":"left","titleAnchor":"start","titleBaseline":"alphabetic","titleAngle":0,"titleFont":"Liberation Sans","titleFontSize":13,"titleFontWeight":"normal","titleColor":"#000000","titlePadding":0}}},
"layer":[
{"data":{"name":"vlev"},"mark":{"type":"rule","color":"#c8c8c8","strokeWidth":1},
"encoding":{"x":{"datum":{"year":2022,"month":5,"date":7,"hours":5,"utc":true},"type":"temporal"},"x2":{"datum":{"year":2024,"month":5,"date":7,"hours":16,"utc":true}},
"y":{"field":"v","type":"quantitative","scale":{"domain":[0,61700],"nice":false,"range":[108,2]},"axis":{"orient":"right","offset":-46,"values":[15000,30000,45000],"labelExpr":"datum.value/1000 + ' k'","grid":false,"ticks":false,"tickSize":0,"labelPadding":4,"domainColor":"#000000","domainWidth":2,"title":null,"zindex":1}}}},
{"data":{"values":[{}]},"mark":{"type":"rule","color":"#000000","strokeWidth":2},
"encoding":{"x":null,"y":{"datum":61700,"type":"quantitative","scale":{"domain":[0,61700],"nice":false,"range":[108,2]}}}},
{"data":{"name":"bars"},"mark":{"type":"bar","width":2},
"encoding":{"y":{"field":"v","type":"quantitative","scale":{"domain":[0,61700],"nice":false,"range":[108,2]}},
"color":{"field":"dir","type":"nominal","scale":{"domain":["u","d","n"],"range":["#4cb24c","#ff0000","#a8a8a8"]},"legend":null}}}
]
},
{
"width":827,"height":17,
"encoding":{"x":{"field":"d","type":"temporal","scale":{"type":"utc","domain":[{"year":2022,"month":5,"date":7,"hours":5,"utc":true},{"year":2024,"month":5,"date":7,"hours":16,"utc":true}],"range":[0,781]},"axis":null}},
"layer":[
{"data":{"name":"yb"},"mark":{"type":"rule","color":"#000000","strokeWidth":2}},
{"data":{"values":[{}]},"mark":{"type":"rule","color":"#000000","strokeWidth":2},"encoding":{"x":{"datum":{"year":2024,"month":5,"date":7,"hours":16,"utc":true},"type":"temporal"}}}
]
},
{
"width":827,"height":14,
"encoding":{"x":{"field":"d","type":"temporal","scale":{"type":"utc","domain":[{"year":2022,"month":5,"date":7,"hours":5,"utc":true},{"year":2024,"month":5,"date":7,"hours":16,"utc":true}],"range":[0,781]},"axis":null}},
"layer":[
{"data":{"name":"yb"},"mark":{"type":"rule","color":"#000000","strokeWidth":2}},
{"data":{"values":[{}]},"mark":{"type":"rule","color":"#000000","strokeWidth":2},"encoding":{"x":{"datum":{"year":2024,"month":5,"date":7,"hours":16,"utc":true},"type":"temporal"}}},
{"data":{"name":"yl"},"mark":{"type":"text","fontSize":13,"align":"center","baseline":"middle","color":"#000000"},"encoding":{"text":{"field":"yr"}}}
]
}
],
"config":{
"view":{"stroke":"#000000","strokeWidth":2},
"font":"Liberation Sans",
"axis":{"labelFont":"Liberation Sans","labelFontSize":13,"labelColor":"#000000"},
"text":{"font":"Liberation Sans"}
}
}
